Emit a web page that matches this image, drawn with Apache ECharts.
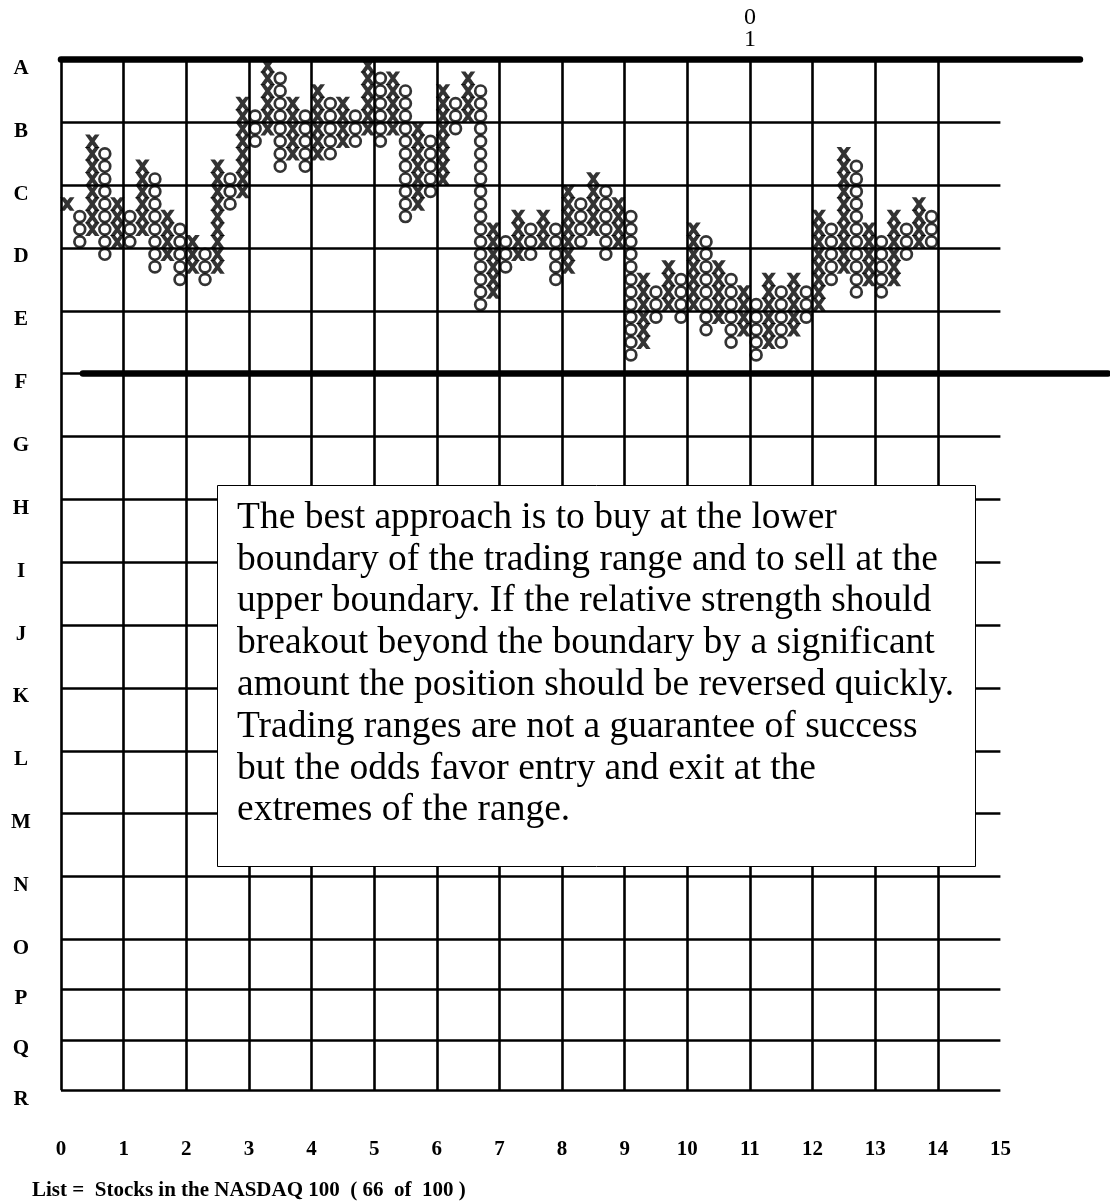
<!DOCTYPE html>
<html>
<head>
<meta charset="utf-8">
<script src="https://cdn.jsdelivr.net/npm/echarts@6/dist/echarts.min.js"></script>
<style>
  html, body { margin: 0; padding: 0; background: #fff; }
  #chart { width: 1110px; height: 1201px; }
</style>
</head>
<body>
<div id="chart"></div>
<script>
// Row letters and their levels on the vertical scale (in boxes, counted down from row A)
const rowLabels = ['A','B','C','D','E','F','G','H','I','J','K','L','M','N','O','P','Q','R'];
const rowLevels = [0,5,10,15,20,25,30,35,40,45,50,55,60,65,70,74,78,82];

// Horizontal tick labels
const xTickLabels = [0,1,2,3,4,5,6,7,8,9,10,11,12,13,14,15];

// Point & figure columns, alternating X (rising) and O (falling), first column is X.
// Box numbers are counted downward from row A; columnTop is the highest box, columnBottom the lowest.
const columnTop = [11,12,6,7,11,12,8,9,12,13,14,15,8,9,3,4,0,1,3,4,
                   2,3,3,4,0,1,1,2,5,6,2,3,1,2,13,14,12,13,12,13,
                   10,11,9,10,11,12,17,18,16,17,13,14,16,17,18,19,17,18,17,18,
                   12,13,7,8,13,14,12,13,11,12];
const columnBottom = [11,14,13,15,14,14,13,16,15,17,16,17,16,11,10,6,5,8,7,8,
                      7,7,6,6,5,6,5,12,11,10,9,5,4,19,18,16,15,15,14,17,
                      16,14,13,15,14,23,22,20,19,20,19,21,20,22,21,23,22,22,21,20,
                      19,17,16,18,17,18,17,15,14,14];

// Trading range boundaries (row level) and the month marker column
const upperBoundary = { level: 0, from: 0, to: 16.27 };
const lowerBoundary = { level: 25, from: 0.35, to: 16.72 };
const markerColumn = 11;

const COL_START = 0.1, COL_STEP = 0.2;

const xPoints = [], oPoints = [];
columnTop.forEach((top, i) => {
  const x = COL_START + COL_STEP * i;
  const target = (i % 2 === 0) ? xPoints : oPoints;
  for (let k = top; k <= columnBottom[i]; k++) target.push([x, k + 0.5]);
});

const SERIF = '"Liberation Serif", "Times New Roman", serif';
// bold X glyph drawn as one filled outline
const X_PATH = 'path://M0,0 L4.8,0 L7.5,3.4 L10.2,0 L15,0 L10,7 L15,14 L10.2,14 L7.5,10.6 L4.8,14 L0,14 L5,7 Z';

// grid lines
const gridLines = [];
rowLevels.forEach(lv => gridLines.push([{ coord: [0, lv] }, { coord: [15, lv] }]));
for (let x = 0; x <= 14; x++) gridLines.push([{ coord: [x, 0] }, { coord: [x, rowLevels[rowLevels.length - 1]] }]);

const boundaryLines = [
  [{ coord: [upperBoundary.from, upperBoundary.level] }, { coord: [upperBoundary.to, upperBoundary.level] }],
  [{ coord: [lowerBoundary.from, lowerBoundary.level] }, { coord: [lowerBoundary.to, lowerBoundary.level] }]
];

const chart = echarts.init(document.getElementById('chart'));
chart.setOption({
  animation: false,
  backgroundColor: '#fff',
  grid: { left: 61, right: 0, top: 59.5, bottom: 110.8, containLabel: false },
  xAxis: {
    type: 'value', min: 0, max: 16.75, interval: 1,
    axisLine: { show: false }, axisTick: { show: false }, splitLine: { show: false },
    axisLabel: {
      customValues: xTickLabels,
      formatter: v => String(v),
      color: '#000', fontFamily: SERIF, fontWeight: 'bold', fontSize: 21, margin: 49
    }
  },
  yAxis: {
    type: 'value', inverse: true, min: 0, max: 82,
    axisLine: { show: false }, axisTick: { show: false }, splitLine: { show: false },
    axisLabel: {
      customValues: rowLevels,
      formatter: v => rowLabels[rowLevels.indexOf(v)],
      color: '#000', fontFamily: SERIF, fontWeight: 'bold', fontSize: 21,
      align: 'center', verticalAlign: 'top', lineHeight: 18, margin: 40
    }
  },
  title: {
    text: 'List =  Stocks in the NASDAQ 100  ( 66  of  100 )',
    left: 27, top: 1175,
    textStyle: { fontFamily: SERIF, fontWeight: 'bold', fontSize: 21, color: '#000' }
  },
  series: [
    {
      type: 'line', data: [], silent: true,
      markLine: {
        silent: true, symbol: 'none', animation: false,
        label: { show: false },
        lineStyle: { color: '#000', width: 2.6, type: 'solid' },
        data: gridLines
      }
    },
    {
      type: 'line', data: [], silent: true,
      markLine: {
        silent: true, symbol: 'none', animation: false,
        label: { show: false },
        lineStyle: { color: '#000', width: 6.5, type: 'solid', cap: 'round' },
        data: boundaryLines
      },
      markPoint: {
        silent: true, symbol: 'rect', symbolSize: 0,
        label: {
          show: true, position: 'top', distance: 9,
          formatter: '0\n1', color: '#000', fontFamily: SERIF, fontSize: 24, lineHeight: 22
        },
        data: [{ coord: [markerColumn, 0] }]
      }
    },
    {
      name: 'X', type: 'scatter', data: xPoints, clip: false,
      symbol: X_PATH, symbolSize: [14.5, 13.5],
      itemStyle: { color: '#000' }, z: 3
    },
    {
      name: 'O', type: 'scatter', data: oPoints, clip: false,
      symbol: 'circle', symbolSize: 10.8,
      itemStyle: { color: '#fff', borderColor: '#000', borderWidth: 2.7 }, z: 4
    }
  ],
  graphic: [
    {
      type: 'rect', left: 217, top: 485, z: 10,
      shape: { width: 758, height: 381 },
      style: { fill: '#fff', stroke: '#000', lineWidth: 1 }
    },
    {
      type: 'text', left: 237, top: 497, z: 11,
      style: {
        text: 'The best approach is to buy at the lower\nboundary of the trading range and to sell at the\nupper boundary. If the relative strength should\nbreakout beyond the boundary by a significant\namount the position should be reversed quickly.\nTrading ranges are not a guarantee of success\nbut the odds favor entry and exit at the\nextremes of the range.',
        font: '37.5px ' + SERIF, lineHeight: 41.8, fill: '#000'
      }
    }
  ]
});
</script>
</body>
</html>
